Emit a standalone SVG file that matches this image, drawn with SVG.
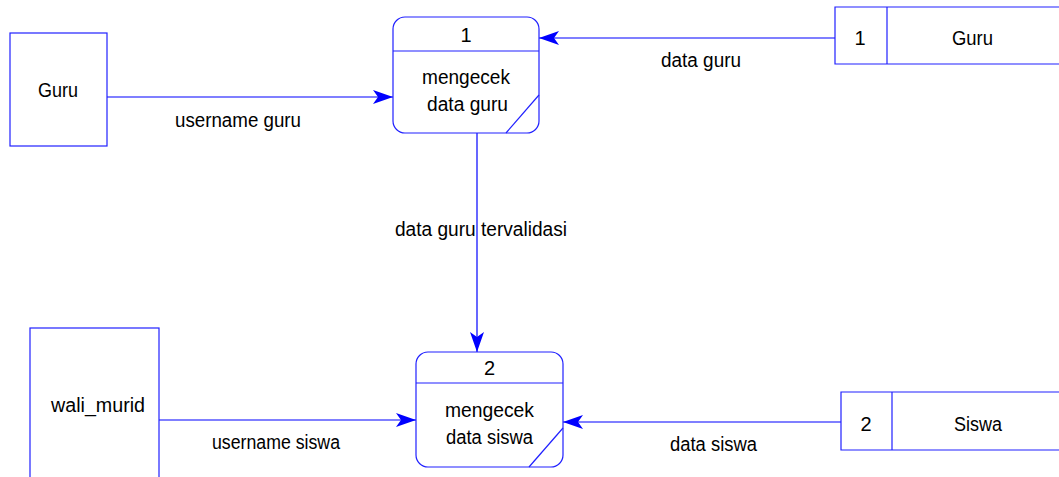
<svg xmlns="http://www.w3.org/2000/svg" width="1059" height="477" viewBox="0 0 1059 477">
<style>
.b{fill:#fff;stroke:#2020ff;stroke-width:1.2}
.l{fill:none;stroke:#2020ff;stroke-width:1.2}
.c{fill:none;stroke:#0000ff;stroke-width:1.2}
text{font-family:"Liberation Sans",Arial,sans-serif;font-size:20px;fill:#000;text-anchor:middle}
</style>
<defs>
<marker id="ah" markerUnits="userSpaceOnUse" viewBox="0 0 20 14" markerWidth="20" markerHeight="14" refX="20" refY="7" orient="auto">
<path d="M0,0 L20,7 L0,14 L5,7 Z" fill="#0000ff"/>
</marker>
</defs>
<rect width="1059" height="477" fill="#fff"/>
<g id="connectors">
<line class="c" x1="107" y1="97" x2="393" y2="97" marker-end="url(#ah)"/>
<line class="c" x1="835" y1="38" x2="539" y2="38" marker-end="url(#ah)"/>
<line class="c" x1="477" y1="133" x2="477" y2="352" marker-end="url(#ah)"/>
<line class="c" x1="159" y1="420" x2="416" y2="420" marker-end="url(#ah)"/>
<line class="c" x1="841" y1="422" x2="563" y2="422" marker-end="url(#ah)"/>
<text x="238" y="127" textLength="126" lengthAdjust="spacingAndGlyphs">username guru</text>
<text x="701" y="67" textLength="80" lengthAdjust="spacingAndGlyphs">data guru</text>
<text x="481" y="236" textLength="172" lengthAdjust="spacingAndGlyphs">data guru tervalidasi</text>
<text x="276" y="449" textLength="128" lengthAdjust="spacingAndGlyphs">username siswa</text>
<text x="713.5" y="451" textLength="87" lengthAdjust="spacingAndGlyphs">data siswa</text>
</g>
<g id="ext-guru">
<rect class="b" x="10" y="33" width="97" height="113"/>
<text x="58" y="97" textLength="40" lengthAdjust="spacingAndGlyphs">Guru</text>
</g>
<g id="ext-wali">
<rect class="b" x="30" y="328" width="129" height="170"/>
<text x="98" y="412" textLength="94" lengthAdjust="spacingAndGlyphs">wali_murid</text>
</g>
<g id="proc1">
<rect class="b" x="393" y="17" width="146" height="116" rx="12"/>
<line class="l" x1="393" y1="51" x2="539" y2="51"/>
<line class="l" x1="539" y1="95" x2="506" y2="133"/>
<text x="466" y="42">1</text>
<text x="466" y="84" textLength="88" lengthAdjust="spacingAndGlyphs">mengecek</text>
<text x="467.5" y="111" textLength="81" lengthAdjust="spacingAndGlyphs">data guru</text>
</g>
<g id="proc2">
<rect class="b" x="416" y="352" width="147" height="115" rx="12"/>
<line class="l" x1="416" y1="383" x2="563" y2="383"/>
<line class="l" x1="563" y1="428" x2="529" y2="467"/>
<text x="489.5" y="375">2</text>
<text x="489.5" y="417" textLength="89" lengthAdjust="spacingAndGlyphs">mengecek</text>
<text x="489.5" y="444" textLength="87" lengthAdjust="spacingAndGlyphs">data siswa</text>
</g>
<g id="store1">
<path class="l" d="M1060,7 H835 V64 H1060 M887,7 V64"/>
<text x="860" y="45">1</text>
<text x="972.5" y="45" textLength="41" lengthAdjust="spacingAndGlyphs">Guru</text>
</g>
<g id="store2">
<path class="l" d="M1060,392 H841 V450 H1060 M892,392 V450"/>
<text x="866" y="431">2</text>
<text x="978" y="431" textLength="48" lengthAdjust="spacingAndGlyphs">Siswa</text>
</g>
</svg>
